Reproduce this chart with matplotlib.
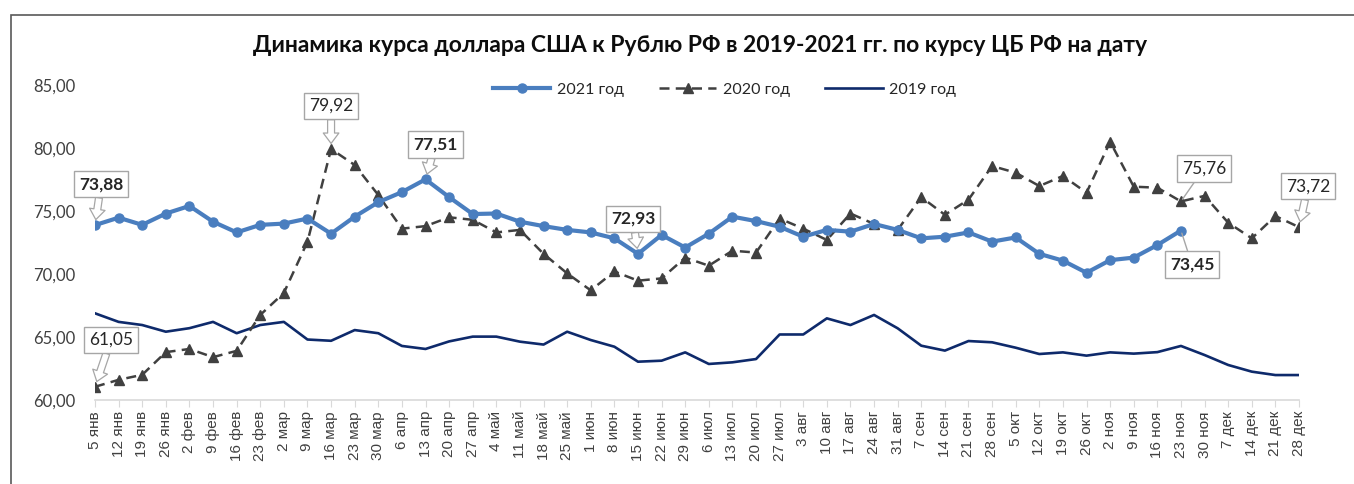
import matplotlib

matplotlib.use("Agg")
import matplotlib.pyplot as plt
from matplotlib.patches import Rectangle
import numpy as np

# weekly points, CBR USD/RUB rate on the date
DATES = [
    "5 янв", "12 янв", "19 янв", "26 янв", "2 фев", "9 фев", "16 фев", "23 фев",
    "2 мар", "9 мар", "16 мар", "23 мар", "30 мар", "6 апр", "13 апр", "20 апр",
    "27 апр", "4 май", "11 май", "18 май", "25 май", "1 июн", "8 июн", "15 июн",
    "22 июн", "29 июн", "6 июл", "13 июл", "20 июл", "27 июл", "3 авг", "10 авг",
    "17 авг", "24 авг", "31 авг", "7 сен", "14 сен", "21 сен", "28 сен", "5 окт",
    "12 окт", "19 окт", "26 окт", "2 ноя", "9 ноя", "16 ноя", "23 ноя", "30 ноя",
    "7 дек", "14 дек", "21 дек", "28 дек",
]

Y2021 = [
    73.88, 74.47, 73.90, 74.80, 75.40, 74.15, 73.30, 73.90, 74.00, 74.40,
    73.20, 74.55, 75.70, 76.50, 77.51, 76.10, 74.76, 74.80, 74.15, 73.80,
    73.50, 73.30, 72.83, 71.60, 73.10, 72.10, 73.20, 74.55, 74.20, 73.75,
    72.96, 73.50, 73.36, 73.97, 73.50, 72.83, 72.96, 73.30, 72.57, 72.90,
    71.60, 71.06, 70.10, 71.10, 71.30, 72.30, 73.45,
]

Y2020 = [
    61.05, 61.60, 62.00, 63.80, 64.05, 63.40, 63.90, 66.75, 68.50, 72.56,
    79.92, 78.65, 76.27, 73.60, 73.80, 74.50, 74.30, 73.30, 73.50, 71.60,
    70.05, 68.70, 70.20, 69.47, 69.65, 71.30, 70.66, 71.85, 71.70, 74.40,
    73.60, 72.70, 74.80, 73.97, 73.50, 76.10, 74.70, 75.90, 78.57, 78.04,
    76.98, 77.78, 76.45, 80.50, 76.93, 76.85, 75.76, 76.20, 74.07, 72.83,
    74.60, 73.72,
]

Y2019 = [
    66.88, 66.20, 65.95, 65.42, 65.70, 66.20, 65.30, 65.95, 66.20, 64.80,
    64.70, 65.55, 65.30, 64.29, 64.05, 64.65, 65.03, 65.03, 64.63, 64.40,
    65.42, 64.76, 64.23, 63.04, 63.12, 63.78, 62.86, 62.99, 63.25, 65.20,
    65.20, 66.48, 65.95, 66.75, 65.69, 64.31, 63.92, 64.68, 64.58, 64.15,
    63.65, 63.78, 63.52, 63.78, 63.68, 63.80, 64.29, 63.57, 62.78, 62.25,
    61.98, 61.98,
]

# callouts: (series, index, text, offset in px, pointer kind, bold)
CALLOUTS = [
    ("2021", 0, "73,88", (6, 41), "arrow", True),
    ("2021", 14, "77,51", (10, 35), "arrow", True),
    ("2021", 23, "72,93", (-5, 35), "arrow", True),
    ("2021", 46, "73,45", (11, -34), "line", True),
    ("2020", 0, "61,05", (16, 47), "arrow", False),
    ("2020", 10, "79,92", (0, 43), "arrow", False),
    ("2020", 46, "75,76", (23, 33), "line", False),
    ("2020", 51, "73,72", (9, 41), "arrow", False),
]

BLUE = "#4A7EBF"
DARK = "#404040"
NAVY = "#0E2A6B"
GRID = "#D9D9D9"
BOX = "#A6A6A6"

FONT = ["Lato", "DejaVu Sans"]
plt.rcParams["font.family"] = FONT

fig = plt.figure(figsize=(13.54, 4.84), dpi=100)
ax = fig.add_axes([95 / 1354, 84 / 484, 1204 / 1354, 315 / 484])

x = np.arange(len(DATES))
series = {"2021": Y2021, "2020": Y2020, "2019": Y2019}

ax.plot(x[: len(Y2021)], Y2021, color=BLUE, lw=3.0, marker="o", ms=6.5,
        label="2021 год", zorder=4)
ax.plot(x, Y2020, color=DARK, lw=1.8, ls=(0, (4, 2.5)), marker="^", ms=6.5,
        label="2020 год", zorder=3)
ax.plot(x, Y2019, color=NAVY, lw=1.9, label="2019 год", zorder=2)

ax.set_xlim(0, len(DATES) - 1)
ax.set_ylim(60, 85)
ax.set_yticks(np.arange(60, 86, 5))
ax.set_yticklabels([f"{v:.2f}".replace(".", ",") for v in np.arange(60, 86, 5)],
                   fontsize=12, color="#404040")
ax.set_xticks(x)
ax.set_xticklabels(DATES, rotation=90, fontsize=11, color="#404040",
                   family=["Liberation Sans", "DejaVu Sans"])
ax.tick_params(axis="y", length=0, pad=14)
ax.tick_params(axis="x", length=5, color=GRID, pad=3)
for side in ("top", "right", "left"):
    ax.spines[side].set_visible(False)
ax.spines["bottom"].set_color(GRID)
ax.spines["bottom"].set_linewidth(1.2)

for name, idx, text, (dx, dy), kind, bold in CALLOUTS:
    if kind == "arrow":
        props = dict(arrowstyle="simple,head_length=0.6,head_width=0.9,tail_width=0.4",
                     fc="white", ec=BOX, lw=0.9, shrinkA=0, shrinkB=4)
    else:
        props = dict(arrowstyle="-", color=BOX, lw=1.0, shrinkA=0, shrinkB=2)
    ax.annotate(
        text, xy=(idx, series[name][idx]), xytext=(dx, dy),
        textcoords="offset pixels", ha="center", va="center",
        fontsize=12.5, fontweight="bold" if bold else "normal", color="#262626",
        bbox=dict(boxstyle="square,pad=0.3", fc="white", ec=BOX, lw=1.0),
        arrowprops=props, zorder=6,
    )

fig.legend(loc="center", bbox_to_anchor=(0.535, 1 - 90 / 484), ncol=3,
           frameon=False, fontsize=11.5, handlelength=3.6, columnspacing=2.2,
           handletextpad=0.4, labelcolor="#262626")

fig.suptitle("Динамика курса доллара США к Рублю РФ в 2019-2021 гг. по курсу ЦБ РФ на дату",
             x=0.517, y=1 - 45 / 484, va="center", fontsize=16.5, fontweight="bold",
             color="#0D0D0D")

fig.patches.append(Rectangle((11 / 1354, -0.2), 1.2, 1.2 - 15 / 484,
                             transform=fig.transFigure, fill=False,
                             ec="#595959", lw=1.2))

fig.savefig("out.png", dpi=100)
